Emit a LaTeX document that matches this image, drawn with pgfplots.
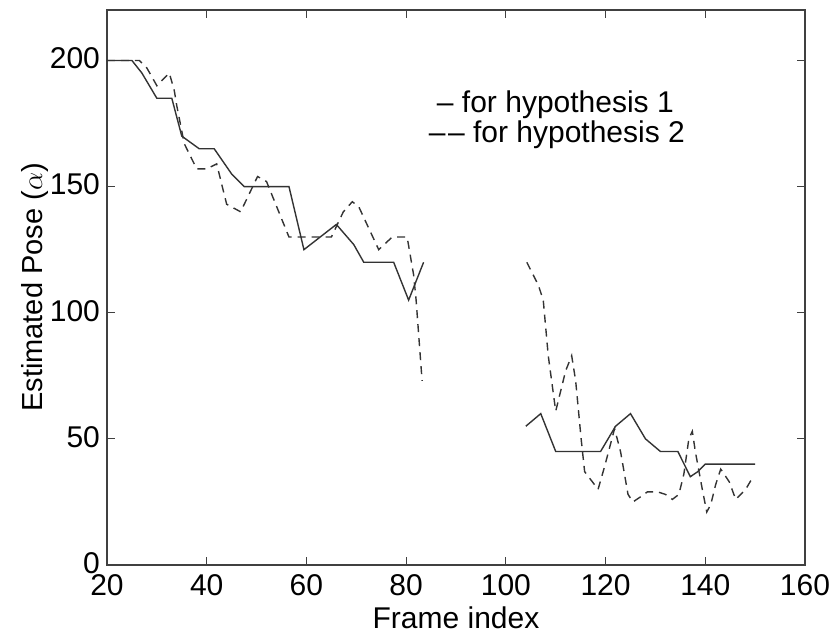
\documentclass[border=0pt]{standalone}
\usepackage{fontspec}
\setmainfont{Liberation Sans}
\usepackage{pgfplots}
\pgfplotsset{compat=1.18}
\usetikzlibrary{calc}

\pgfplotstableread{
x y
20 200
25 200
27 195
30 185
33 185
35 170
38.5 165
41.5 165
45 155
47.5 150
56.5 150
59.5 125
66 135
69.5 127
71.5 120
77.5 120
80.5 105
83.5 120
nan nan
104 55
107 60
110 45
119 45
122 55
125 60
128 50
131 45
134.5 45
137 35
138.5 37
140 40
150 40
}\hypone

\pgfplotstableread{
x y
20 200
26.5 200
28 197
30 190
31 192
32.5 195
33.5 188
34 182
35.5 167
38 157
40 157
42 159
44 143
46.8 140
50.2 154
52 152
56.5 130
65 130
67.4 140
69.2 144
70.5 142
74.5 125
77.2 130
80.2 130
81.5 115
82 105
83.2 73
nan nan
104.2 120
106.5 111
107.5 105
108.5 83
110 61
112 77
113.2 83
114 73
115.1 50
115.8 37
118.5 30
119.8 39
121.8 54
123 45
124.5 28
125.5 25
127 27
128.4 29
130.4 29
132 28
133.4 26
134.7 28
135.7 36
136.7 50
137.4 53
138 45
139.4 30
140.3 21
141.1 24
142.1 32
143.1 38
144.8 33
146.1 26
148.1 30
149.3 34
}\hyptwo

\begin{document}
\begin{tikzpicture}
\begin{axis}[
  scale only axis,
  width=349pt, height=277.5pt,
  xmin=20, xmax=160, ymin=0, ymax=220,
  xtick={20,40,...,160}, ytick={0,50,...,200},
  tick align=inside, major tick length=4pt,
  tick style={black!75, line width=0.6pt},
  axis line style={black!75, line width=0.8pt},
  ticklabel style={font=\fontsize{15}{18}\selectfont},
  x tick label style={yshift=-1pt},
  y tick label style={yshift=1pt},
  xlabel style={font=\fontsize{15}{18}\selectfont, yshift=1pt},
  ylabel style={font=\fontsize{14.5}{17}\selectfont, yshift=-6pt},
  /pgf/number format/assume math mode=true,
  xlabel={Frame index},
  ylabel={Estimated Pose ($\alpha$)},
  unbounded coords=jump,
]
\addplot[black!80, line width=0.7pt] table {\hypone};
\addplot[black!80, line width=0.7pt, dash pattern=on 4pt off 3pt] table {\hyptwo};
\node[anchor=north west, align=left, inner sep=0pt,
      font=\fontsize{15}{12.5}\selectfont] at (axis cs:84.5,188)
  {\hspace{4pt}\textendash\ for hypothesis 1\\
   \textendash\kern1.2pt\textendash\ for hypothesis 2};
\end{axis}
\pgfresetboundingbox
\path ($(current axis.south west)+(-53.5pt,-36pt)$) rectangle ($(current axis.north east)+(12.5pt,5pt)$);
\end{tikzpicture}
\end{document}
